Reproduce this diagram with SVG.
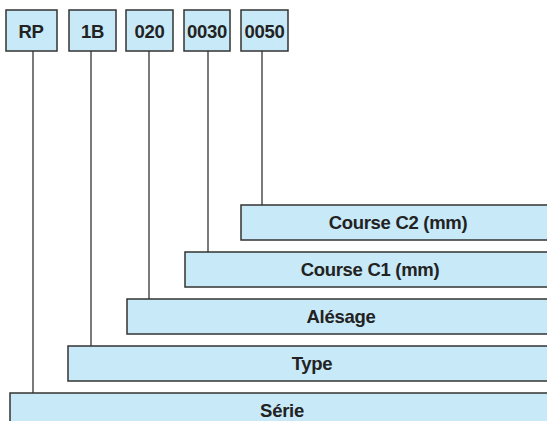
<svg xmlns="http://www.w3.org/2000/svg" width="547" height="421" viewBox="0 0 547 421">
<style>
.box{fill:#c8e9f8;stroke:#333;stroke-width:1.5}
.t{font-family:"Liberation Sans",Arial,sans-serif;font-weight:bold;font-size:18.5px;fill:#222;text-anchor:middle;letter-spacing:-0.3px}
.c{stroke:#333;stroke-width:1.3;fill:none}
</style>
<rect width="547" height="421" fill="#fff"/>
<g id="connectors">
<line class="c" x1="33" y1="51" x2="33" y2="393"/>
<line class="c" x1="91" y1="51" x2="91" y2="346"/>
<line class="c" x1="149" y1="51" x2="149" y2="299"/>
<line class="c" x1="208" y1="51" x2="208" y2="252"/>
<line class="c" x1="262" y1="51" x2="262" y2="205"/>
</g>
<g id="code-rp"><rect class="box" x="6" y="10" width="51" height="41"/><text class="t" x="31" y="37.5">RP</text></g>
<g id="code-1b"><rect class="box" x="69" y="10" width="47" height="41"/><text class="t" x="92.5" y="37.5">1B</text></g>
<g id="code-020"><rect class="box" x="126" y="10" width="47" height="41"/><text class="t" x="149.5" y="37.5">020</text></g>
<g id="code-0030"><rect class="box" x="184" y="10" width="46" height="41"/><text class="t" x="207" y="37.5">0030</text></g>
<g id="code-0050"><rect class="box" x="241" y="10" width="47" height="41"/><text class="t" x="264.5" y="37.5">0050</text></g>
<g id="course-c2"><rect class="box" x="241" y="205" width="320" height="35"/><text class="t" x="398" y="229">Course C2 (mm)</text></g>
<g id="course-c1"><rect class="box" x="185" y="252" width="376" height="35"/><text class="t" x="370" y="276">Course C1 (mm)</text></g>
<g id="alesage"><rect class="box" x="127" y="299" width="434" height="35"/><text class="t" x="341" y="323">Alésage</text></g>
<g id="type"><rect class="box" x="68" y="346" width="493" height="35"/><text class="t" x="312" y="370">Type</text></g>
<g id="serie"><rect class="box" x="10" y="393" width="551" height="40"/><text class="t" x="282" y="417">Série</text></g>
</svg>
